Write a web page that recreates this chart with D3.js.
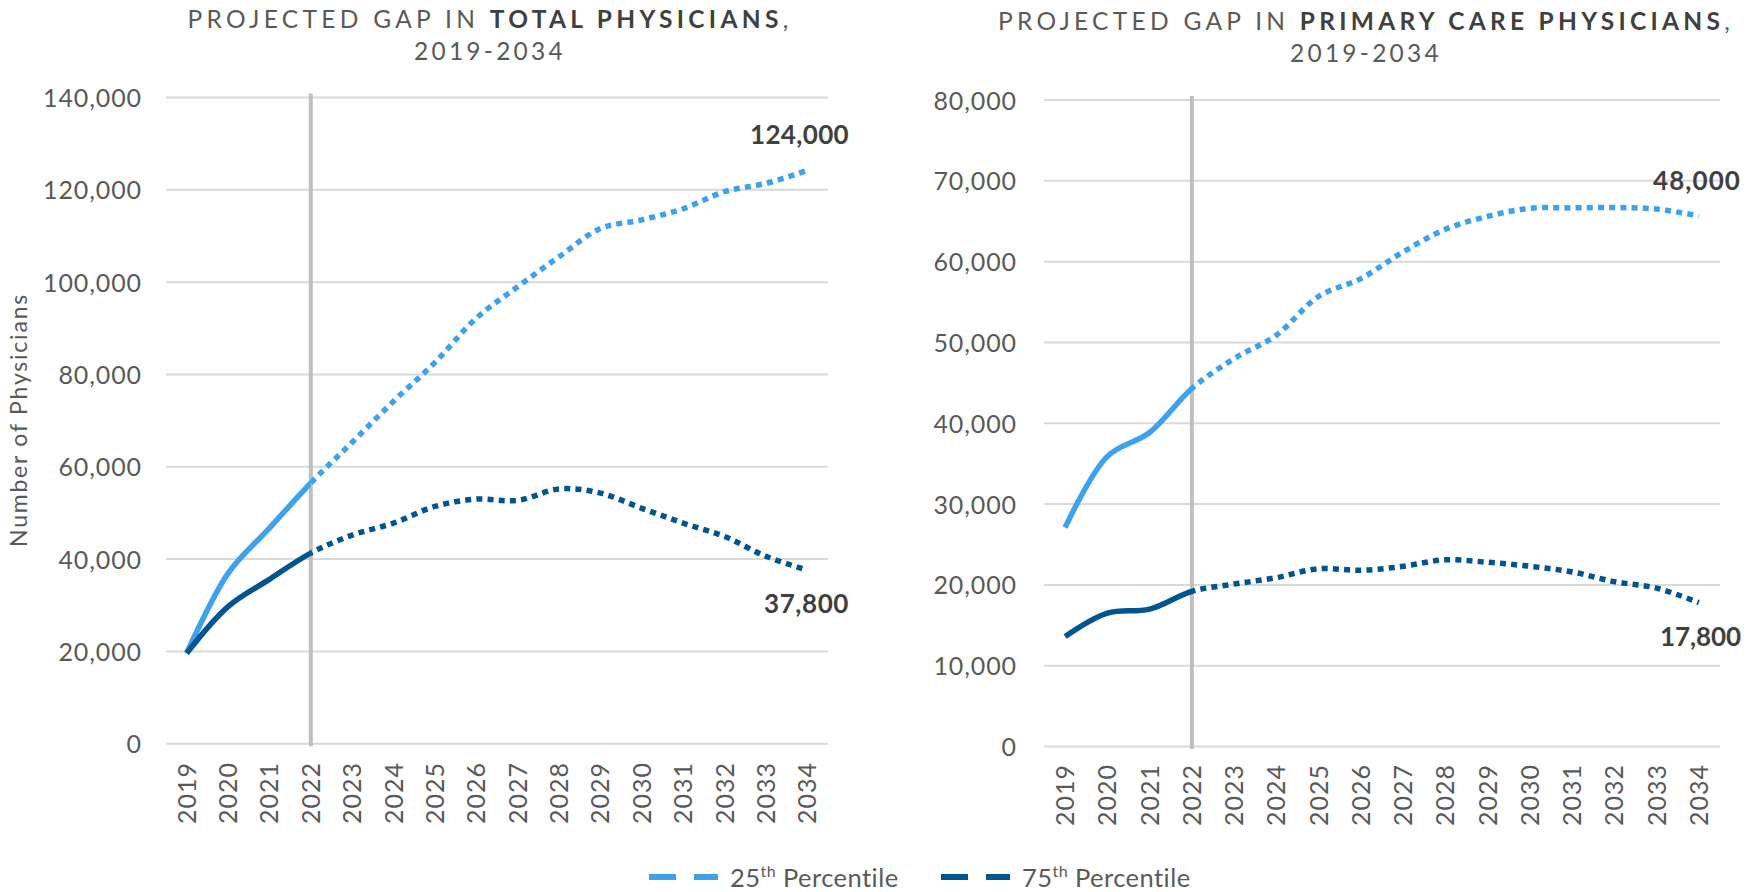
<!DOCTYPE html>
<html>
<head>
<meta charset="utf-8">
<script src="https://cdn.jsdelivr.net/npm/d3@7"></script>
<style>
  html, body { margin: 0; padding: 0; background: #fff; }
  svg { display: block; font-family: Lato, "Open Sans", sans-serif; }
</style>
</head>
<body>
<svg id="chart" width="1756" height="892"></svg>
<script>
// ---------- DATA ----------
const years = ["2019","2020","2021","2022","2023","2024","2025","2026","2027","2028","2029","2030","2031","2032","2033","2034"];
const splitYear = "2022";

const totalP25 = [19600, 36900, 46700, 56500, 65300, 74200, 82600, 92200, 99000, 105500, 111600, 113500, 115900, 119600, 121400, 124200];
const totalP75 = [19600, 29700, 35600, 41300, 45200, 47800, 51400, 53000, 52700, 55200, 54300, 51000, 47800, 44900, 40600, 37600];
const totalTicks = [0, 20000, 40000, 60000, 80000, 100000, 120000, 140000];
const totalLabels = ["124,000", "37,800"];

const primaryP25 = [27100, 35900, 38850, 44300, 48000, 50900, 55700, 57900, 61200, 64000, 65600, 66600, 66650, 66700, 66500, 65650];
const primaryP75 = [13600, 16500, 17000, 19200, 20100, 20900, 22000, 21800, 22300, 23100, 22800, 22300, 21600, 20400, 19600, 17800];
const primaryTicks = [0, 10000, 20000, 30000, 40000, 50000, 60000, 70000, 80000];
const primaryLabels = ["48,000", "17,800"];

const titleTotal = ["PROJECTED GAP IN ", "TOTAL PHYSICIANS", ","];
const titlePrimary = ["PROJECTED GAP IN ", "PRIMARY CARE PHYSICIANS", ","];
const titleYears = "2019-2034";
const yAxisTitle = "Number of Physicians";
const legendNames = [["25", "th", " Percentile"], ["75", "th", " Percentile"]];

// ---------- STYLE ----------
const C25 = "#3DA2EB";
const C75 = "#00548F";
const GRID = "#D9D9D9";
const TXT = "#595959";
const DARK = "#404040";

const svg = d3.select("#chart");
svg.append("rect").attr("width", 1756).attr("height", 892).attr("fill", "#fff");

function fitWidth(sel, target) {
  const n = sel.text().length;
  const w = sel.node().getComputedTextLength();
  sel.attr("letter-spacing", ((target - w) / n).toFixed(3));
}

let clipId = 0;
function drawPanel(cfg) {
  const g = svg.append("g");
  const x = d3.scaleBand().domain(years).range([cfg.x0, cfg.x1]).paddingInner(0).paddingOuter(0);
  const xc = d => x(d) + x.bandwidth() / 2;
  const y = d3.scaleLinear().domain([0, d3.max(cfg.ticks)]).range([cfg.yBot, cfg.yTop]);

  // gridlines
  g.append("g").selectAll("line").data(cfg.ticks).join("line")
    .attr("x1", cfg.x0).attr("x2", cfg.x1)
    .attr("y1", d => y(d)).attr("y2", d => y(d))
    .attr("stroke", GRID).attr("stroke-width", 2);

  // y axis labels via d3 axis
  const yAxis = d3.axisLeft(y).tickValues(cfg.ticks).tickFormat(d3.format(",")).tickSize(0).tickPadding(0);
  const ya = g.append("g").attr("transform", `translate(${cfg.tickRight},0)`).call(yAxis);
  ya.select(".domain").remove();
  ya.selectAll("text").attr("fill", TXT).attr("font-size", 25).attr("font-family", "Lato")
    .attr("letter-spacing", 0.9).attr("dy", "0.36em");

  // x axis labels (rotated)
  const xAxis = d3.axisBottom(x).tickSize(0).tickPadding(0);
  const xa = g.append("g").attr("transform", `translate(0,${cfg.xLabelTop})`).call(xAxis);
  xa.select(".domain").remove();
  xa.selectAll("text").attr("fill", TXT).attr("font-size", 25).attr("font-family", "Lato")
    .attr("letter-spacing", 1.0)
    .attr("transform", "rotate(-90)").attr("text-anchor", "end")
    .attr("x", 0).attr("y", 0).attr("dy", "0.36em");

  // vertical divider at split year
  g.append("line")
    .attr("x1", xc(splitYear)).attr("x2", xc(splitYear))
    .attr("y1", cfg.yTop - 4).attr("y2", cfg.yBot + 2.5)
    .attr("stroke", "#BFBFBF").attr("stroke-width", 4);

  // clip paths: solid before split, dotted after
  const idA = "clipA" + (clipId), idB = "clipB" + (clipId++);
  const defs = svg.append("defs");
  defs.append("clipPath").attr("id", idA).append("rect")
    .attr("x", 0).attr("y", 0).attr("width", xc(splitYear)).attr("height", 892);
  defs.append("clipPath").attr("id", idB).append("rect")
    .attr("x", xc(splitYear)).attr("y", 0).attr("width", 1756).attr("height", 892);

  const line = d3.line().x((d, i) => xc(years[i])).y(d => y(d)).curve(d3.curveCatmullRom.alpha(0.5));

  const series = [
    { vals: cfg.p25, color: C25 },
    { vals: cfg.p75, color: C75 }
  ];
  series.forEach(s => {
    g.append("path").attr("d", line(s.vals)).attr("fill", "none")
      .attr("stroke", s.color).attr("stroke-width", 5.5)
      .attr("clip-path", `url(#${idA})`);
    g.append("path").attr("d", line(s.vals)).attr("fill", "none")
      .attr("stroke", s.color).attr("stroke-width", 5.5)
      .attr("stroke-dasharray", "6,5.2")
      .attr("clip-path", `url(#${idB})`);
  });

  // end labels
  const l1 = g.append("text").attr("x", cfg.x1 + 21).attr("y", y(cfg.p25[cfg.p25.length - 1]) - 26)
    .attr("text-anchor", "end").attr("font-size", 26).attr("font-weight", 700)
    .attr("fill", DARK).text(cfg.labels[0]);
  fitWidth(l1, cfg.labelW[0]);
  const l2 = g.append("text").attr("x", cfg.x1 + 21).attr("y", y(cfg.p75[cfg.p75.length - 1]) + 43)
    .attr("text-anchor", "end").attr("font-size", 26).attr("font-weight", 700)
    .attr("fill", DARK).text(cfg.labels[1]);
  fitWidth(l2, cfg.labelW[1]);

  // title
  const t1 = g.append("text").attr("x", cfg.titleCx).attr("y", cfg.titleBase[0])
    .attr("text-anchor", "middle").attr("font-size", 24.5).attr("fill", TXT);
  t1.append("tspan").text(cfg.title[0]);
  t1.append("tspan").attr("font-weight", 700).attr("fill", DARK).text(cfg.title[1]);
  t1.append("tspan").text(cfg.title[2]);
  fitWidth(t1, cfg.titleW);
  const t2 = g.append("text").attr("x", cfg.titleCx).attr("y", cfg.titleBase[1])
    .attr("text-anchor", "middle").attr("font-size", 24.5).attr("fill", TXT).text(titleYears);
  fitWidth(t2, 152);
}

drawPanel({
  x0: 166, x1: 828, yTop: 97.5, yBot: 743.7, ticks: totalTicks, tickRight: 142,
  xLabelTop: 762, p25: totalP25, p75: totalP75, labels: totalLabels, labelW: [99, 85],
  title: titleTotal, titleCx: 490, titleBase: [28, 60], titleW: 605
});
drawPanel({
  x0: 1044, x1: 1720, yTop: 100, yBot: 746.5, ticks: primaryTicks, tickRight: 1017,
  xLabelTop: 764, p25: primaryP25, p75: primaryP75, labels: primaryLabels, labelW: [88, 81],
  title: titlePrimary, titleCx: 1366, titleBase: [30, 62], titleW: 736
});

// y axis title
const yt = svg.append("text").attr("transform", "translate(27,420) rotate(-90)")
  .attr("text-anchor", "middle").attr("font-size", 23).attr("fill", TXT).text(yAxisTitle);
fitWidth(yt, 254);

// legend
const legendItems = [
  { name: legendNames[0], color: C25, x: 649 },
  { name: legendNames[1], color: C75, x: 941 }
];
const lg = svg.append("g");
legendItems.forEach(it => {
  lg.append("line").attr("x1", it.x).attr("x2", it.x + 69).attr("y1", 877).attr("y2", 877)
    .attr("stroke", it.color).attr("stroke-width", 6).attr("stroke-dasharray", "27,18");
  const t = lg.append("text").attr("x", it.x + 81).attr("y", 887).attr("font-size", 25.5).attr("fill", TXT);
  t.append("tspan").text(it.name[0]);
  t.append("tspan").attr("font-size", 16).attr("dy", -10).text(it.name[1]);
  t.append("tspan").attr("dy", 10).text(it.name[2]);
  fitWidth(t, 169);
});
</script>
</body>
</html>
